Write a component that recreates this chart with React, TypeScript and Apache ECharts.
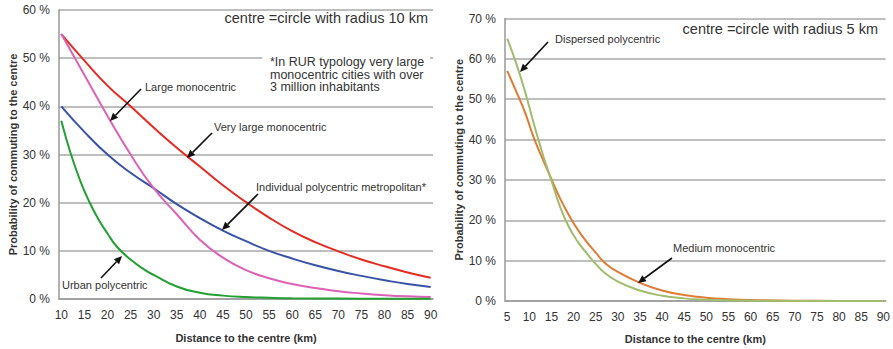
import React, { useEffect, useRef } from "react";
import * as echarts from "echarts";

// Distance categories (km) for the two panels
const leftDistances: string[] = [];
for (let d = 10; d <= 90; d++) leftDistances.push(String(d));
const rightDistances: string[] = [];
for (let d = 5; d <= 90; d++) rightDistances.push(String(d));

// Left panel: centre = circle with radius 10 km
const kmLeft = [10, 15, 20, 25, 30, 35, 40, 45, 50, 55, 60, 65, 70, 75, 80, 85, 90];
const veryLargeMono = [55, 49.5, 44.3, 40, 35.6, 31.4, 27.5, 23.6, 20.1, 16.9, 14.1, 11.8, 9.9, 8.2, 6.8, 5.5, 4.4];
const indivPolyMetro = [40, 34.7, 30.0, 26.2, 23.0, 19.7, 16.8, 14.2, 12.0, 10.0, 8.4, 7.0, 5.8, 4.8, 3.9, 3.1, 2.5];
const largeMono = [55, 46.5, 38, 30, 23, 17.6, 12.3, 8.6, 6.0, 4.3, 3.1, 2.3, 1.6, 1.15, 0.8, 0.55, 0.4];
const kmUrban = [10, 12, 14, 16, 18, 20, 22, 25, 28, 30, 35, 40, 45, 50, 55, 60, 70, 80, 90];
const urbanPoly = [37, 30.3, 24.8, 20.3, 16.6, 13.6, 10.9, 8.2, 6.1, 5.0, 2.6, 1.3, 0.7, 0.4, 0.25, 0.15, 0.08, 0.04, 0.03];

// Right panel: centre = circle with radius 5 km
const kmRight = [5, 7, 9, 11, 13, 15, 17, 19, 21, 23, 25, 27, 30, 35, 40, 45, 50, 55, 60, 70, 80, 90];
const mediumMono = [57, 52, 46.8, 40.5, 35.2, 30.2, 25.3, 21.2, 17.6, 14.6, 12.0, 9.5, 7.2, 4.5, 2.6, 1.5, 0.8, 0.45, 0.25, 0.08, 0.03, 0.02];
const dispersedPoly = [65, 59, 52, 44, 36.5, 29.8, 23.2, 18.2, 14.6, 11.8, 9.2, 7.0, 4.8, 2.6, 1.3, 0.65, 0.33, 0.17, 0.09, 0.03, 0.01, 0.01];

const FONT = '"Liberation Sans", Arial, sans-serif';
const TEXT = "#333";
const GRID = "#a9a9a9";
const AXIS = "#999";

const pairs = (km: number[], v: number[]) => km.map((k, i) => [String(k), v[i]]);

function arrow(x1: number, y1: number, x2: number, y2: number) {
  const dx = x2 - x1;
  const dy = y2 - y1;
  const L = Math.hypot(dx, dy);
  const ux = dx / L;
  const uy = dy / L;
  const hl = 8;
  const hw = 3.6;
  const bx = x2 - ux * hl;
  const by = y2 - uy * hl;
  return [
    { type: "line", z: 100, silent: true, shape: { x1, y1, x2: bx, y2: by }, style: { stroke: "#111", lineWidth: 1.6 } },
    {
      type: "polygon",
      z: 100,
      silent: true,
      shape: { points: [[x2, y2], [bx - uy * hw, by + ux * hw], [bx + uy * hw, by - ux * hw]] },
      style: { fill: "#111" },
    },
  ];
}

function label(text: string, x: number, y: number, size = 11, align = "left") {
  return {
    type: "text",
    z: 100,
    silent: true,
    x,
    y,
    style: {
      text,
      fill: TEXT,
      font: `${size}px ${FONT}`,
      textAlign: align,
      align,
      textVerticalAlign: "middle",
      verticalAlign: "middle",
    },
  };
}

function xAxisFor(gridIndex: number, data: string[], nameGap: number) {
  return {
    gridIndex,
    type: "category",
    data,
    boundaryGap: true,
    axisLine: { lineStyle: { color: AXIS, width: 1.5 } },
    axisTick: { interval: 0, length: 3, lineStyle: { color: AXIS, width: 1 } },
    axisLabel: { interval: 4, fontSize: 12, color: TEXT, margin: 10, fontFamily: FONT },
    splitLine: { show: false },
    name: "Distance to the centre (km)",
    nameLocation: "middle",
    nameGap,
    nameTextStyle: { fontSize: 11, fontWeight: "bold", color: TEXT, fontFamily: FONT },
  };
}

function yAxisFor(gridIndex: number, max: number, nameGap: number) {
  return {
    gridIndex,
    type: "value",
    min: 0,
    max,
    interval: 10,
    axisLine: { show: true, lineStyle: { color: AXIS, width: 1.5 } },
    axisTick: { show: false },
    axisLabel: { formatter: "{value} %", fontSize: 12, color: TEXT, margin: 9, fontFamily: FONT },
    splitLine: { lineStyle: { color: GRID, width: 1.5 } },
    name: "Probability of commuting to the centre",
    nameLocation: "middle",
    nameGap,
    nameTextStyle: { fontSize: 11, fontWeight: "bold", color: TEXT, fontFamily: FONT },
  };
}

function line(name: string, data: any[], color: string, axis: number) {
  return {
    name,
    type: "line",
    xAxisIndex: axis,
    yAxisIndex: axis,
    data,
    smooth: 0.5,
    showSymbol: false,
    symbol: "none",
    lineStyle: { color, width: 2 },
    itemStyle: { color },
    z: 5,
  };
}

export default function App() {
  const ref = useRef<HTMLDivElement>(null);

  useEffect(() => {
    if (!ref.current) return;
    const chart = echarts.init(ref.current, undefined, { renderer: "svg" });
    chart.setOption({
      animation: false,
      backgroundColor: "#fff",
      textStyle: { fontFamily: FONT },
      grid: [
        { left: 59, top: 10, width: 374, height: 289 },
        { left: 505, top: 18.5, width: 384, height: 282.5 },
      ],
      xAxis: [xAxisFor(0, leftDistances, 33), xAxisFor(1, rightDistances, 32)],
      yAxis: [yAxisFor(0, 60, 40), yAxisFor(1, 70, 39)],
      series: [
        line("Very large monocentric", pairs(kmLeft, veryLargeMono), "#e52a22", 0),
        line("Individual polycentric metropolitan*", pairs(kmLeft, indivPolyMetro), "#3852a6", 0),
        line("Large monocentric", pairs(kmLeft, largeMono), "#dd62b6", 0),
        line("Urban polycentric", pairs(kmUrban, urbanPoly), "#23a033", 0),
        line("Medium monocentric", pairs(kmRight, mediumMono), "#e07a34", 1),
        line("Dispersed polycentric", pairs(kmRight, dispersedPoly), "#a0bd6e", 1),
      ],
      graphic: {
        elements: [
          label("centre =circle with radius 10 km", 428, 18, 14.5, "right"),
          { type: "rect", z: 90, silent: true, shape: { x: 262, y: 52, width: 168, height: 44 }, style: { fill: "#fff" } },
          {
            type: "text",
            z: 100,
            silent: true,
            x: 270,
            y: 56,
            style: {
              text: "*In RUR typology very large\nmonocentric cities with over\n3 million inhabitants",
              fill: TEXT,
              font: `12.5px ${FONT}`,
              lineHeight: 12.5,
            },
          },
          label("Large monocentric", 145, 87),
          ...arrow(141, 89, 110, 121),
          label("Very large monocentric", 214, 127),
          ...arrow(212, 133, 187, 158),
          label("Individual polycentric metropolitan*", 256, 187),
          ...arrow(258, 194, 222, 230),
          label("Urban polycentric", 62, 285),
          ...arrow(101, 278, 122, 256),
          label("centre =circle with radius 5 km", 878, 29, 14.5, "right"),
          label("Dispersed polycentric", 555, 39),
          ...arrow(548, 42, 520, 72),
          label("Medium monocentric", 673, 248),
          ...arrow(672, 258, 638, 283),
        ],
      },
    });
    return () => chart.dispose();
  }, []);

  return (
    <div
      ref={ref}
      style={{ position: "absolute", left: 0, top: 0, width: 893, height: 349, background: "#fff" }}
    />
  );
}
